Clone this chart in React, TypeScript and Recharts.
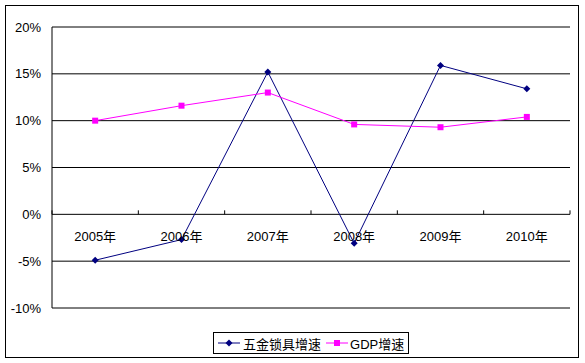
import React from 'react';
import { LineChart, Line, XAxis, YAxis, CartesianGrid } from 'recharts';

const years = ['2005年', '2006年', '2007年', '2008年', '2009年', '2010年'];
const hardwareGrowth = [-4.9, -2.7, 15.2, -3.1, 15.9, 13.4];
const gdpGrowth = [10.0, 11.6, 13.0, 9.6, 9.3, 10.4];
const yTicks = [-10, -5, 0, 5, 10, 15, 20];

const data = years.map((year, i) => ({
  year,
  hardware: hardwareGrowth[i],
  gdp: gdpGrowth[i],
}));

const W = 585;
const H = 363;
const xAxisH = 2;
const margin = { top: 27, right: 15, bottom: 55 - xAxisH, left: 0 };
const yAxisW = 52;
const plotW = W - margin.left - margin.right - yAxisW;
const plotH = H - margin.top - margin.bottom - xAxisH;
const zeroY = margin.top + (plotH * 20) / 30;
const band = plotW / years.length;

const FONT = '"Liberation Sans", "Noto Sans CJK SC", sans-serif';
const NAVY = '#000080';
const MAGENTA = '#FF00FF';

const Diamond = ({ cx, cy }: any) => (
  <polygon points={`${cx},${cy - 3.5} ${cx + 3.5},${cy} ${cx},${cy + 3.5} ${cx - 3.5},${cy}`} fill={NAVY} />
);

const Square = ({ cx, cy }: any) => (
  <rect x={cx - 3} y={cy - 3} width={6} height={6} fill={MAGENTA} />
);

// category labels and tick marks sit on the 0% line, not at the bottom
const CategoryTick = ({ x, payload, index }: any) => (
  <g>
    <line x1={x - band / 2} x2={x - band / 2} y1={zeroY} y2={zeroY - 4} stroke="#000" />
    {index === years.length - 1 && (
      <line x1={x + band / 2} x2={x + band / 2} y1={zeroY} y2={zeroY - 4} stroke="#000" />
    )}
    <text x={x} y={zeroY + 27} textAnchor="middle" fontSize={13} fontFamily={FONT} fill="#000">
      {payload.value}
    </text>
  </g>
);

export default function App() {
  return (
    <div style={{ position: 'absolute', left: 0, top: 0, width: W, height: H, background: '#fff' }}>
      <div
        style={{
          position: 'absolute', left: 5, top: 5, width: 574, height: 353,
          border: '1px solid #000', boxSizing: 'border-box',
        }}
      />
      <LineChart width={W} height={H} data={data} margin={margin}>
        <CartesianGrid vertical={false} stroke="#000" />
        <XAxis
          dataKey="year"
          height={xAxisH}
          axisLine={false}
          tickLine={false}
          tick={<CategoryTick />}
          interval={0}
          padding={{ left: band / 2, right: band / 2 }}
        />
        <YAxis
          width={yAxisW}
          domain={[-10, 20]}
          ticks={yTicks}
          tickFormatter={(v) => `${v}%`}
          axisLine={{ stroke: '#000' }}
          tickLine={false}
          tickMargin={5}
          tick={{ fontSize: 13, fill: '#000', fontFamily: FONT }}
        />
        <Line
          dataKey="hardware"
          stroke={NAVY}
          strokeWidth={1}
          dot={<Diamond />}
          isAnimationActive={false}
        />
        <Line
          dataKey="gdp"
          stroke={MAGENTA}
          strokeWidth={1}
          dot={<Square />}
          isAnimationActive={false}
        />
      </LineChart>
      <div
        style={{
          position: 'absolute', left: 213, top: 332, width: 196, height: 22,
          border: '1px solid #000', boxSizing: 'border-box', display: 'flex',
          alignItems: 'center', fontFamily: FONT, fontSize: 13, paddingLeft: 4,
        }}
      >
        <svg width={22} height={10}>
          <line x1={0} x2={22} y1={5} y2={5} stroke={NAVY} />
          <Diamond cx={11} cy={5} />
        </svg>
        <span style={{ marginLeft: 3, marginRight: 5 }}>五金锁具增速</span>
        <svg width={22} height={10}>
          <line x1={0} x2={22} y1={5} y2={5} stroke={MAGENTA} />
          <Square cx={11} cy={5} />
        </svg>
        <span style={{ marginLeft: 2 }}>GDP增速</span>
      </div>
    </div>
  );
}
